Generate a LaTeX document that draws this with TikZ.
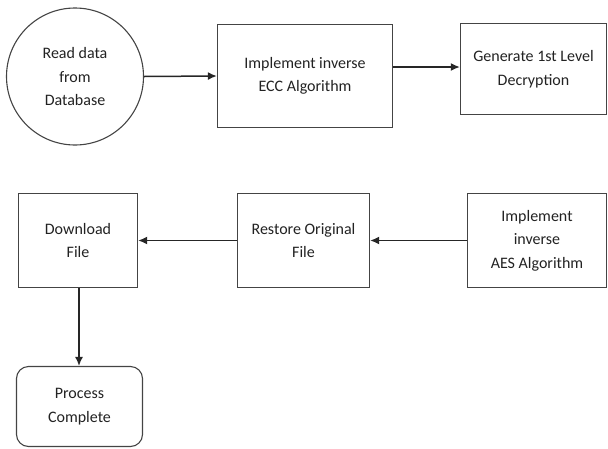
\documentclass[tikz,border=0pt]{standalone}
\usepackage{fontspec}
\setmainfont{Carlito}
\usetikzlibrary{arrows.meta}
\definecolor{edge}{HTML}{444444}
\definecolor{ink}{HTML}{222222}
\tikzset{
  every node/.style={font=\fontsize{16}{23.5}\selectfont, text=ink, align=center, inner sep=0pt},
  stepbox/.style={draw=edge, line width=1.3pt, rectangle},
  startnode/.style={draw=edge, line width=1.1pt, circle},
  endnode/.style={draw=edge, line width=1.1pt, rectangle, rounded corners=12pt},
  flow/.style={draw=black!85, line width=1.5pt, -{Latex[length=9pt,width=8pt]}}
}
\begin{document}
\begin{tikzpicture}[x=1pt,y=-1pt]
  \useasboundingbox (0,0) rectangle (608,448);
  % top row
  \node[startnode, minimum size=137pt] (read) at (75,76.5) {Read data\\from\\Database};
  \node[stepbox, minimum width=175pt, minimum height=103pt] (ecc) at (305,76) {Implement inverse\\ECC Algorithm};
  \node[stepbox, minimum width=146pt, minimum height=91pt] (gen) at (533.5,69) {Generate 1st Level\\Decryption};
  % bottom row
  \node[stepbox, minimum width=119pt, minimum height=94pt] (down) at (78,240.5) {Download\\File};
  \node[stepbox, minimum width=132pt, minimum height=94pt] (rest) at (303.5,240.5) {Restore Original\\File};
  \node[stepbox, minimum width=139pt, minimum height=94pt] (aes) at (537,240.5) {Implement\\inverse\\AES Algorithm};
  % terminal
  \node[endnode, minimum width=126pt, minimum height=80pt] (done) at (79.5,406.5) {Process\\Complete};
  % connectors
  \draw[flow] (read.east) -- (ecc.west);
  \draw[flow] (ecc.east |- 0,67) -- (gen.west |- 0,67);
  \draw[flow] (aes.west) -- (rest.east);
  \draw[flow] (rest.west) -- (down.east);
  \draw[flow] (down.south -| 79,0) -- (done.north -| 79,0);
\end{tikzpicture}
\end{document}
